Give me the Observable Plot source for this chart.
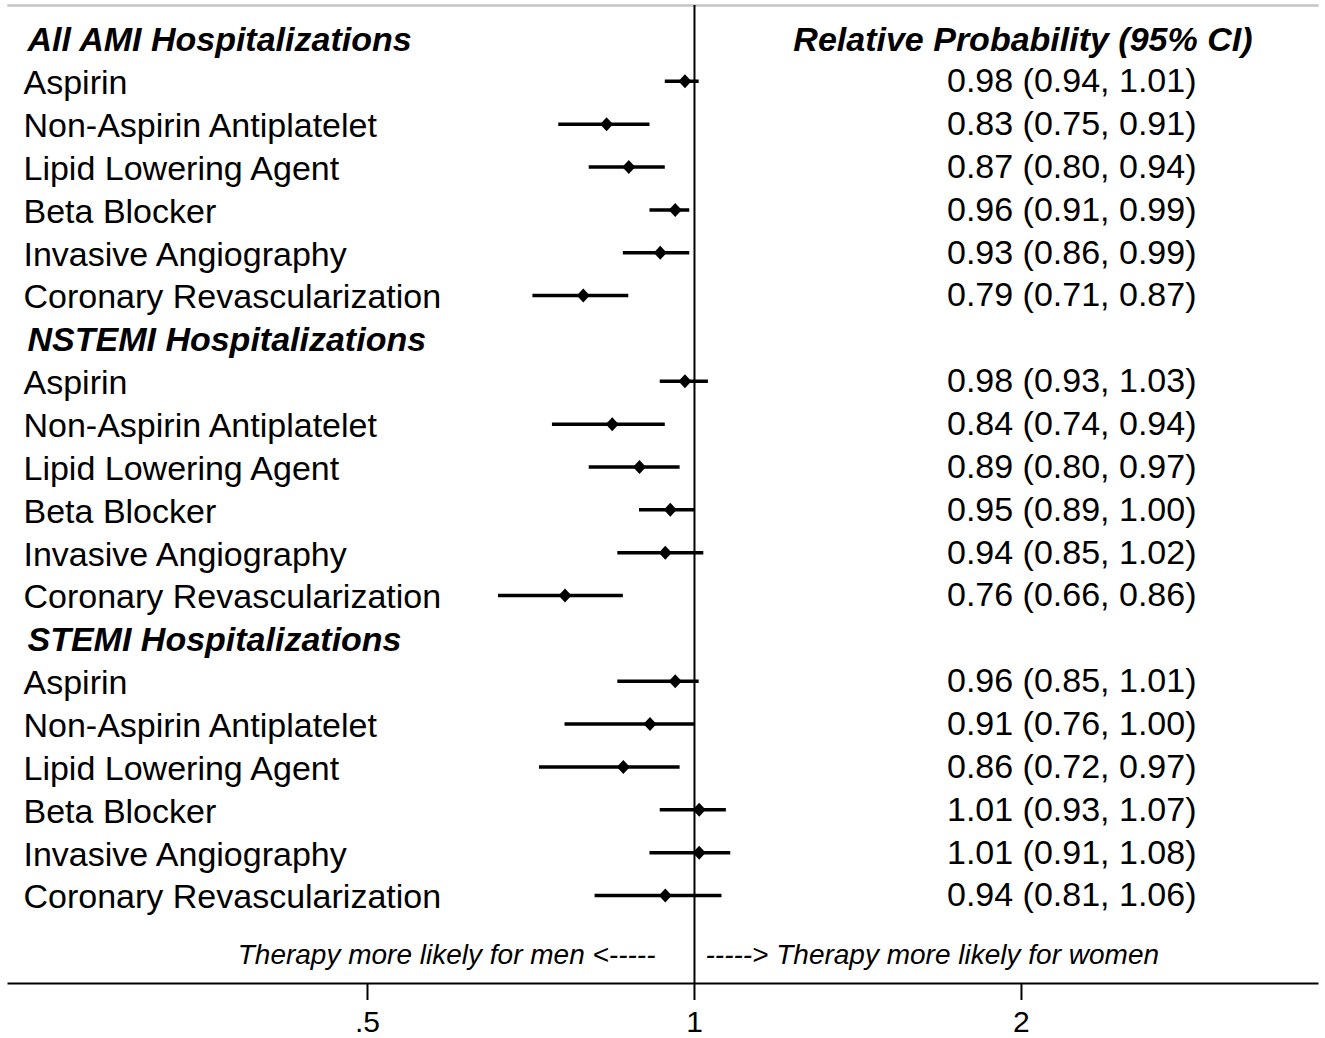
<!DOCTYPE html>
<html>
<head>
<meta charset="utf-8">
<script src="https://cdn.jsdelivr.net/npm/d3@7"></script>
<script src="https://cdn.jsdelivr.net/npm/@observablehq/plot@0.6"></script>
<style>
  html, body { margin: 0; padding: 0; background: #fff; }
  #chart svg { display: block; }
</style>
</head>
<body>
<div id="chart"></div>
<script>
const groups = ["All AMI Hospitalizations", "NSTEMI Hospitalizations", "STEMI Hospitalizations"];
const therapies = ["Aspirin", "Non-Aspirin Antiplatelet", "Lipid Lowering Agent", "Beta Blocker", "Invasive Angiography", "Coronary Revascularization"];
const estimates = [
  [0.98, 0.83, 0.87, 0.96, 0.93, 0.79],
  [0.98, 0.84, 0.89, 0.95, 0.94, 0.76],
  [0.96, 0.91, 0.86, 1.01, 1.01, 0.94]
];
const lower = [
  [0.94, 0.75, 0.80, 0.91, 0.86, 0.71],
  [0.93, 0.74, 0.80, 0.89, 0.85, 0.66],
  [0.85, 0.76, 0.72, 0.93, 0.91, 0.81]
];
const upper = [
  [1.01, 0.91, 0.94, 0.99, 0.99, 0.87],
  [1.03, 0.94, 0.97, 1.00, 1.02, 0.86],
  [1.01, 1.00, 0.97, 1.07, 1.08, 1.06]
];
const xTicks = [0.5, 1, 2];
const columnHeader = "Relative Probability (95% CI)";
const leftNote = "Therapy more likely for men <-----";
const rightNote = "-----> Therapy more likely for women";

// build rows
const headers = [];
const rows = [];
groups.forEach((g, gi) => {
  headers.push({ i: gi * 7, label: g });
  therapies.forEach((t, ti) => {
    rows.push({
      i: gi * 7 + 1 + ti,
      label: t,
      est: estimates[gi][ti],
      lo: lower[gi][ti],
      hi: upper[gi][ti]
    });
  });
});
const f2 = d3.format(".2f");
rows.forEach(r => r.txt = `${f2(r.est)} (${f2(r.lo)}, ${f2(r.hi)})`);

const diamond = {
  draw(ctx, size) {
    const r = Math.sqrt(size / Math.PI);
    const w = r, h = r * 1.08;
    ctx.moveTo(0, -h);
    ctx.lineTo(w, 0);
    ctx.lineTo(0, h);
    ctx.lineTo(-w, 0);
    ctx.closePath();
  }
};

const W = 1325, H = 1038;
const FONT = "'Liberation Sans', Arial, Helvetica, sans-serif";

const chart = Plot.plot({
  width: W,
  height: H,
  marginTop: 5,
  marginBottom: 55,
  marginLeft: 8,
  marginRight: 8,
  style: { fontFamily: FONT, fontSize: "34px", color: "#000", background: "#fff" },
  x: { type: "log", domain: [0.2336, 3.746], range: [8, 1317] },
  y: { domain: [0, 20], range: [40, 897], axis: null },
  marks: [
    Plot.frame({ anchor: "top", stroke: "#c4c4c4", strokeWidth: 2.5 }),
    Plot.ruleX([1], { stroke: "#000", strokeWidth: 2 }),
    Plot.frame({ anchor: "bottom", stroke: "#000", strokeWidth: 2 }),
    Plot.axisX({
      ticks: xTicks,
      tickFormat: d => d < 1 ? String(d).replace(/^0/, "") : String(d),
      tickSize: 17,
      tickPadding: 10,
      fontSize: 30,
      strokeWidth: 2,
      label: null
    }),
    Plot.ruleY(rows, { y: "i", x1: "lo", x2: "hi", stroke: "#000", strokeWidth: 3.5, dy: -2 }),
    Plot.dot(rows, { y: "i", x: "est", r: 6.5, symbol: diamond, fill: "#000", stroke: "none", dy: -2 }),
    Plot.text(rows, { y: "i", text: "label", frameAnchor: "left", dx: 15, textAnchor: "start", fontSize: 34 }),
    Plot.text(headers, { y: "i", text: "label", frameAnchor: "left", dx: 19, textAnchor: "start", fontSize: 34, fontWeight: "bold", fontStyle: "italic" }),
    Plot.text(rows, { y: "i", text: "txt", frameAnchor: "right", dx: -121, textAnchor: "end", fontSize: 34, dy: -2 }),
    Plot.text([{ i: 0, label: columnHeader }], { y: "i", text: "label", frameAnchor: "right", dx: -65, textAnchor: "end", fontSize: 34, fontWeight: "bold", fontStyle: "italic" }),
    Plot.text([{ x: 1, i: 21.35, t: leftNote }], { x: "x", y: "i", text: "t", textAnchor: "end", dx: -39, fontSize: 28, fontStyle: "italic" }),
    Plot.text([{ x: 1, i: 21.35, t: rightNote }], { x: "x", y: "i", text: "t", textAnchor: "start", dx: 11, fontSize: 28, fontStyle: "italic" })
  ]
});
document.getElementById("chart").appendChild(chart);
</script>
</body>
</html>
